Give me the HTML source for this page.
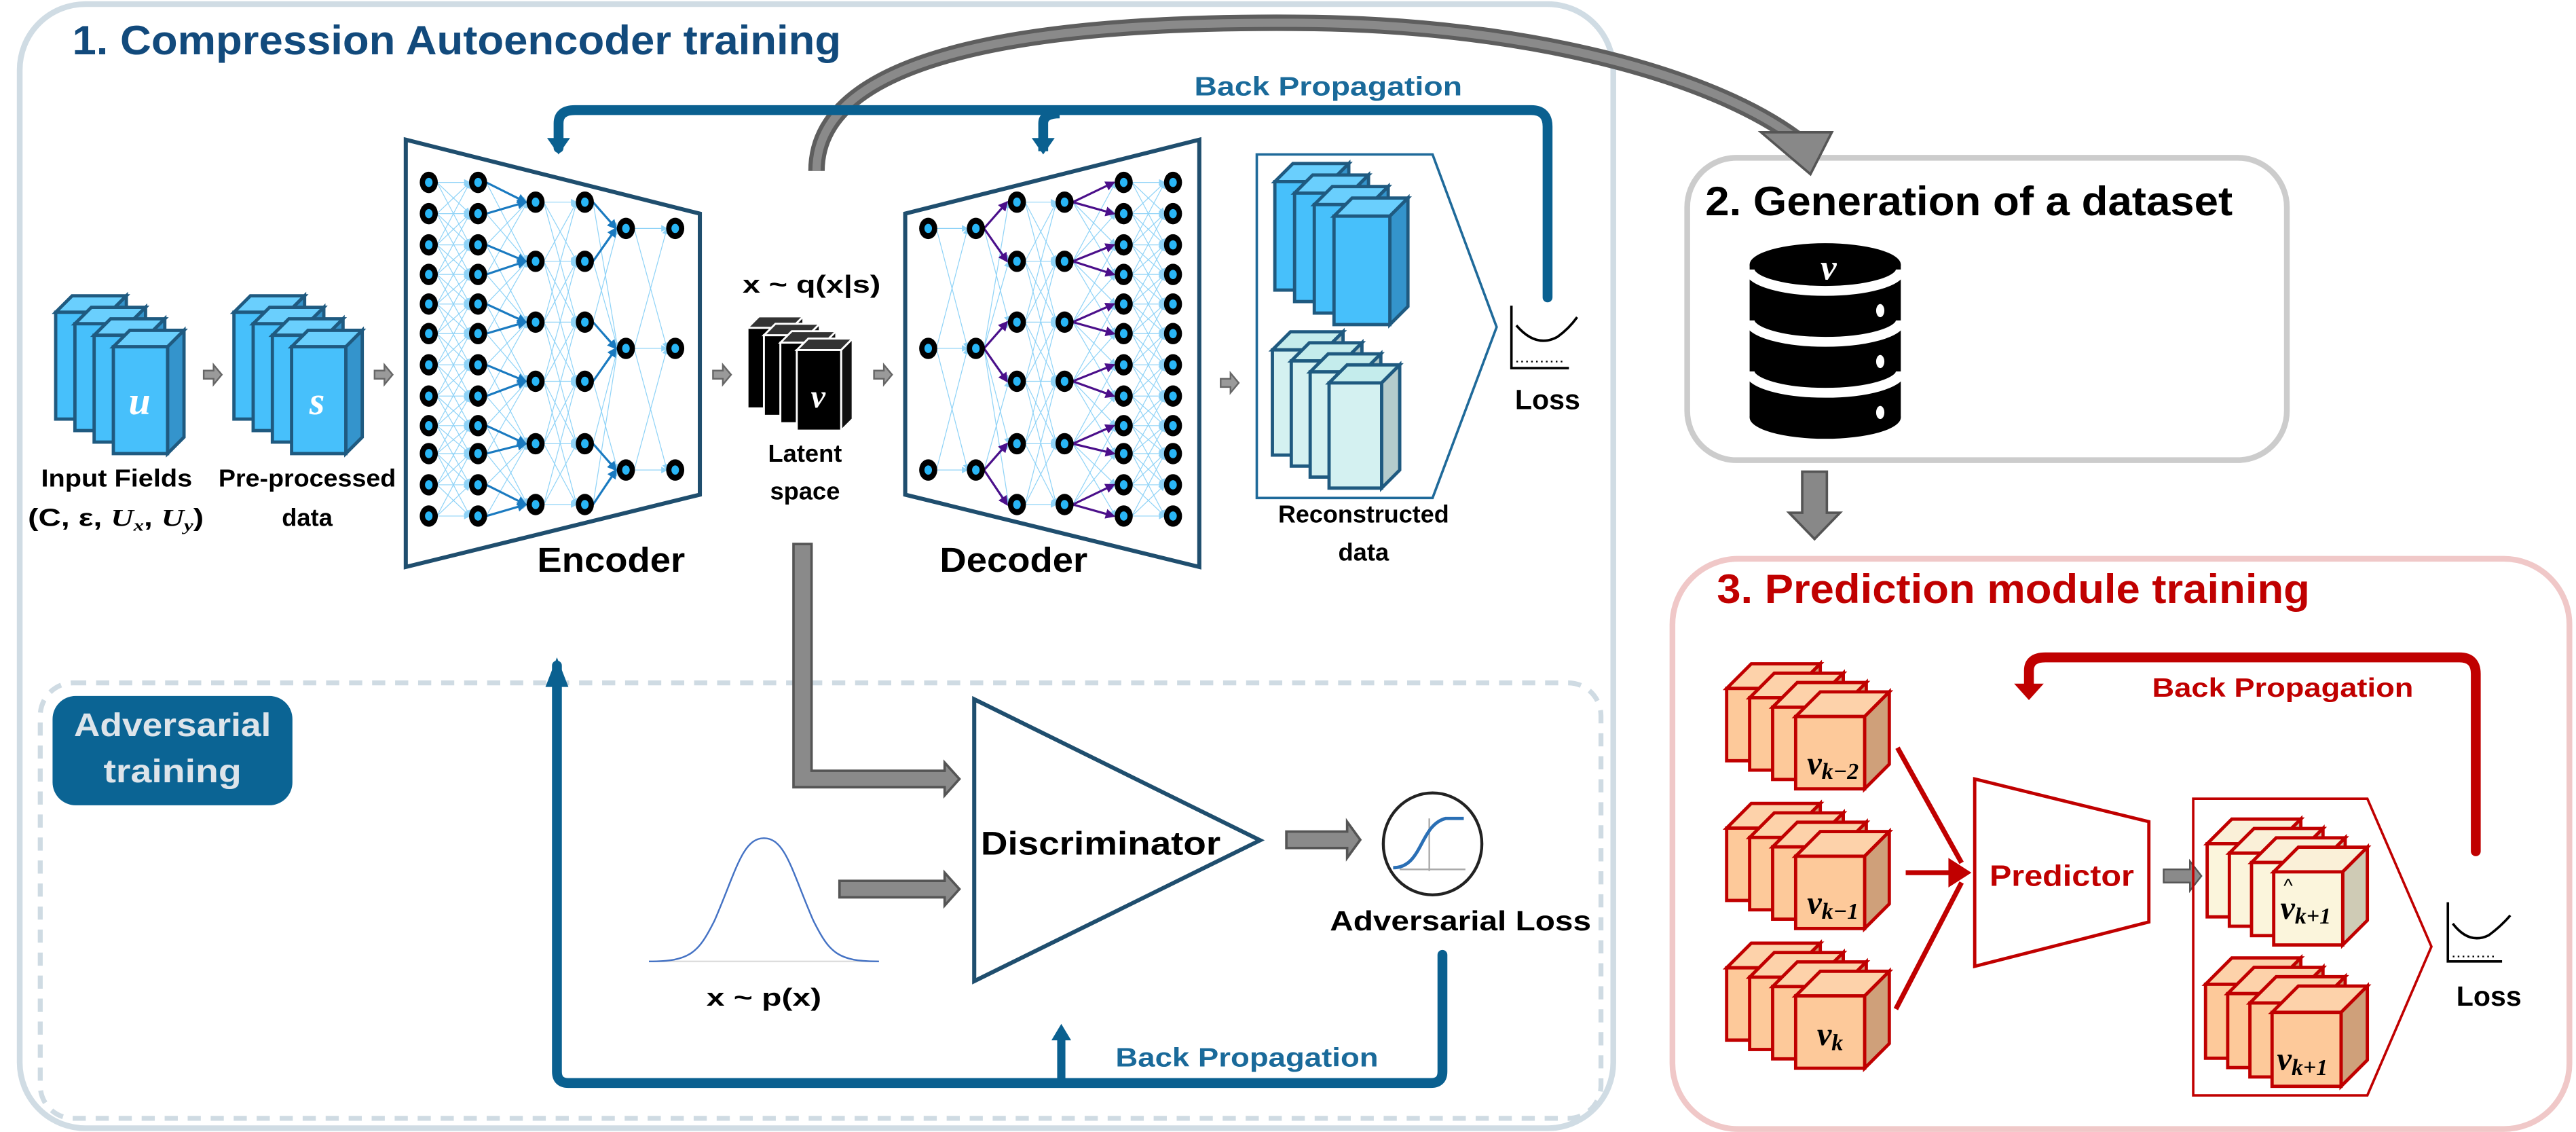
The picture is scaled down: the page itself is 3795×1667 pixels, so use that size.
<!DOCTYPE html>
<html><head><meta charset="utf-8">
<style>
html,body{margin:0;padding:0;background:#fff;}
svg{display:block;}
text{font-family:"Liberation Sans",Arial,sans-serif;font-weight:bold;}
.m{font-family:"Liberation Serif",serif;font-style:italic;font-weight:bold;}
</style></head>
<body>
<svg id="s" xmlns="http://www.w3.org/2000/svg" width="3795" height="1667" viewBox="0 0 1568 688.8" preserveAspectRatio="none">
<defs>
<marker id="ab" markerWidth="6" markerHeight="6" refX="5" refY="3" orient="auto" markerUnits="userSpaceOnUse"><path d="M0,0 L6,3 L0,6 z" fill="#1a7ac0"/></marker>
<marker id="ap" markerWidth="6" markerHeight="6" refX="5" refY="3" orient="auto" markerUnits="userSpaceOnUse"><path d="M0,0 L6,3 L0,6 z" fill="#4b0f8a"/></marker>
<marker id="al" markerWidth="4" markerHeight="4" refX="3.5" refY="2" orient="auto" markerUnits="userSpaceOnUse"><path d="M0,0 L4,2 L0,4 z" fill="#8fd3f7"/></marker>
</defs>

<!-- Panel 1 -->
<rect x="12" y="2.5" width="970" height="684" rx="40" fill="none" stroke="#d0dce4" stroke-width="3.5"/>
<text x="44" y="33" font-size="25" fill="#124a7c" textLength="468" lengthAdjust="spacingAndGlyphs">1. Compression Autoencoder training</text>

<!-- dashed adversarial -->
<rect x="24.5" y="415.5" width="950" height="265" rx="20" fill="none" stroke="#cfdbe3" stroke-width="3" stroke-dasharray="8,6"/>
<rect x="32" y="423.5" width="146" height="66.5" rx="14" fill="#0b6494"/>
<text x="105" y="448" font-size="20" fill="#dde4ea" text-anchor="middle" textLength="120" lengthAdjust="spacingAndGlyphs">Adversarial</text>
<text x="105" y="476" font-size="20" fill="#dde4ea" text-anchor="middle" textLength="84" lengthAdjust="spacingAndGlyphs">training</text>

<!-- Panel 2 -->
<rect x="1027" y="96" width="365" height="184" rx="30" fill="none" stroke="#cccccc" stroke-width="3.5"/>
<text x="1038" y="131" font-size="25" fill="#000" textLength="321" lengthAdjust="spacingAndGlyphs">2. Generation of a dataset</text>
<!-- database -->
<g>
<rect x="1065" y="161" width="92" height="93" fill="#000"/>
<ellipse cx="1111" cy="254" rx="46" ry="13" fill="#000"/>
<ellipse cx="1111" cy="161" rx="46" ry="13" fill="#000"/>
<path d="M1065,164 A46,13 0 0 0 1157,164" fill="none" stroke="#fff" stroke-width="6"/>
<path d="M1065,195 A46,13 0 0 0 1157,195" fill="none" stroke="#fff" stroke-width="6"/>
<path d="M1065,226 A46,13 0 0 0 1157,226" fill="none" stroke="#fff" stroke-width="6"/>
<ellipse cx="1144.5" cy="189" rx="2.5" ry="4" fill="#fff"/>
<ellipse cx="1144.5" cy="220" rx="2.5" ry="4" fill="#fff"/>
<ellipse cx="1144.5" cy="251" rx="2.5" ry="4" fill="#fff"/>
<text x="1113" y="170" class="m" font-size="22" fill="#fff" text-anchor="middle">v</text>
</g>
<!-- gray down arrow -->
<polygon points="1097,287 1112,287 1112,312 1120,312 1104.5,328 1089,312 1097,312" fill="#888" stroke="#555" stroke-width="1.5"/>

<!-- Panel 3 -->
<rect x="1018" y="340" width="546" height="347" rx="40" fill="none" stroke="#f0c8c8" stroke-width="3.5"/>
<text x="1045" y="367" font-size="25" fill="#c00000" textLength="361" lengthAdjust="spacingAndGlyphs">3. Prediction module training</text>

<!-- Curved gray arrow -->
<path d="M497,104 C497,30 640,12 800,14 C930,16 1040,45 1093,84" fill="none" stroke="#5e5e5e" stroke-width="10"/>
<path d="M497,104 C497,30 640,12 800,14 C930,16 1040,45 1093,84" fill="none" stroke="#8a8a8a" stroke-width="5"/>
<polygon points="1072,80.5 1115,80.5 1102,106" fill="#888" stroke="#555" stroke-width="1.5"/>

<!-- Back propagation top (blue) -->
<path d="M340,90 L340,75 Q340,67 350,67 L932,67 Q942,67 942,77 L942,181" fill="none" stroke="#0a6090" stroke-width="6" stroke-linecap="round"/>
<path d="M635,92 L635,75 Q635,69 645,69" fill="none" stroke="#0a6090" stroke-width="6"/>
<polygon points="333,84 347,84 340,94" fill="#0a6090"/>
<polygon points="628,84 642,84 635,94" fill="#0a6090"/>
<text x="727" y="58" font-size="16" fill="#1a6a9a" textLength="163" lengthAdjust="spacingAndGlyphs">Back Propagation</text>

<!-- Encoder / Decoder trapezoids -->
<polygon points="247,85 426,130 426,301 247,345" fill="#fff" stroke="#1f4e6e" stroke-width="2.5"/>
<polygon points="551,130 730,85 730,345 551,301" fill="#fff" stroke="#1f4e6e" stroke-width="2.5"/>
<g id="net"></g>
<text x="372" y="348" font-size="21" fill="#000" text-anchor="middle" textLength="90" lengthAdjust="spacingAndGlyphs">Encoder</text>
<text x="617" y="348" font-size="21" fill="#000" text-anchor="middle" textLength="90" lengthAdjust="spacingAndGlyphs">Decoder</text>

<g id="cubes"></g>

<!-- letters on cubes -->
<text x="85" y="252" class="m" font-size="24" fill="#fff" text-anchor="middle">u</text>
<text x="193" y="252" class="m" font-size="24" fill="#fff" text-anchor="middle">s</text>
<text x="498" y="248" class="m" font-size="20" fill="#fff" text-anchor="middle">v</text>
<text x="829" y="171" class="m" font-size="24" fill="#fff" text-anchor="middle">s</text>
<text x="825" y="281" class="m" font-size="24" fill="#888" text-anchor="middle">s</text>
<text x="825" y="265" font-size="14" fill="#888" text-anchor="middle" style="font-weight:normal">^</text>

<!-- Left labels -->
<text x="71" y="296" font-size="15" fill="#000" text-anchor="middle" textLength="92" lengthAdjust="spacingAndGlyphs">Input Fields</text>
<text x="17" y="320" font-size="15" fill="#000" textLength="107" lengthAdjust="spacingAndGlyphs">(C, ε, <tspan class="m">U</tspan><tspan class="m" font-size="10" dy="3">x</tspan><tspan dy="-3">, </tspan><tspan class="m">U</tspan><tspan class="m" font-size="10" dy="3">y</tspan><tspan dy="-3">)</tspan></text>
<text x="187" y="296" font-size="15" fill="#000" text-anchor="middle" textLength="108" lengthAdjust="spacingAndGlyphs">Pre-processed</text>
<text x="187" y="320" font-size="15" fill="#000" text-anchor="middle">data</text>
<text x="494" y="178" font-size="15" fill="#000" text-anchor="middle" textLength="84" lengthAdjust="spacingAndGlyphs">x ~ q(x|s)</text>
<text x="490" y="281" font-size="15" fill="#000" text-anchor="middle">Latent</text>
<text x="490" y="304" font-size="15" fill="#000" text-anchor="middle">space</text>

<!-- Reconstructed pentagon -->
<polygon points="765,94 872,94 911,199 872,303 765,303" fill="none" stroke="#1f6a9a" stroke-width="1.5"/>
<g id="cubes2"></g>
<text x="830" y="318" font-size="15" fill="#000" text-anchor="middle" textLength="104" lengthAdjust="spacingAndGlyphs">Reconstructed</text>
<text x="830" y="341" font-size="15" fill="#000" text-anchor="middle">data</text>

<!-- Loss icon 1 -->
<g stroke="#000" fill="none" stroke-width="1.5">
<path d="M920,186 L920,224 L955,224"/>
<path d="M923,198 Q935,212 948,205 Q955,200 960,193"/>
<path d="M923,220 L953,220" stroke-dasharray="1,2" stroke-width="1"/>
</g>
<text x="942" y="249" font-size="17" fill="#000" text-anchor="middle">Loss</text>

<!-- small gray arrows -->
<g fill="#9a9a9a" stroke="#666" stroke-width="1">
<polygon points="124,225.5 130,225.5 130,222 135,228 130,234 130,230.5 124,230.5"/>
<polygon points="228,225.5 234,225.5 234,222 239,228 234,234 234,230.5 228,230.5"/>
<polygon points="434,225.5 440,225.5 440,222 445,228 440,234 440,230.5 434,230.5"/>
<polygon points="532,225.5 538,225.5 538,222 543,228 538,234 538,230.5 532,230.5"/>
<polygon points="743,230.5 749,230.5 749,227 754,233 749,239 749,235.5 743,235.5"/>
</g>

<!-- latent to discriminator gray -->
<path d="M483,331 L494,331 L494,469 L575,469 L575,464 L584,474 L575,484 L575,479 L483,479 Z" fill="#8a8a8a" stroke="#555" stroke-width="1.5"/>
<path d="M511,536 L575,536 L575,531 L584,541 L575,551 L575,546 L511,546 Z" fill="#8a8a8a" stroke="#555" stroke-width="1.5"/>
<path d="M783,506 L820,506 L820,500 L828,511 L820,522 L820,516 L783,516 Z" fill="#8a8a8a" stroke="#555" stroke-width="1.5"/>

<!-- Discriminator -->
<polygon points="593,425.5 767,511.3 593,597" fill="#fff" stroke="#1f4e6e" stroke-width="2.5"/>
<text x="597" y="520" font-size="20" fill="#000" textLength="146" lengthAdjust="spacingAndGlyphs">Discriminator</text>

<!-- sigmoid -->
<ellipse cx="872" cy="513.5" rx="30" ry="31" fill="#fff" stroke="#222" stroke-width="1.8"/>
<path d="M852,529 L892,529 M870,498 L870,530" stroke="#aaa" stroke-width="1" fill="none"/>
<path d="M848,528 C866,528 864,502 880,498 L891,498" stroke="#2a6fb5" stroke-width="2" fill="none"/>
<text x="889" y="566" font-size="17" fill="#000" text-anchor="middle" textLength="159" lengthAdjust="spacingAndGlyphs">Adversarial Loss</text>

<!-- gaussian -->
<path d="M395,585 L535,585" stroke="#ddd" stroke-width="1"/>
<path d="M395,585 C420,585 425,580 435,560 C448,530 452,510 465,510 C478,510 482,530 495,560 C505,580 510,585 535,585" stroke="#4472c4" stroke-width="1" fill="none"/>
<text x="465" y="612" font-size="15" fill="#000" text-anchor="middle" textLength="70" lengthAdjust="spacingAndGlyphs">x ~ p(x)</text>

<!-- bottom blue loop -->
<path d="M339,405 L339,652 Q339,659 346,659 L871,659 Q878,659 878,652 L878,581" fill="none" stroke="#0a6090" stroke-width="6" stroke-linecap="round"/>
<polygon points="332,418 346,418 339,400" fill="#0a6090"/>
<path d="M646,659 L646,630" stroke="#0a6090" stroke-width="5"/>
<polygon points="640,633 652,633 646,623" fill="#0a6090"/>
<text x="679" y="649" font-size="16" fill="#1a6a9a" textLength="160" lengthAdjust="spacingAndGlyphs">Back Propagation</text>

<!-- Red back propagation -->
<path d="M1235,418 L1235,408 Q1235,400 1245,400 L1497,400 Q1507,400 1507,410 L1507,518" fill="none" stroke="#c00000" stroke-width="6" stroke-linecap="round"/>
<polygon points="1226,416 1244,416 1235,426" fill="#c00000"/>
<text x="1310" y="424" font-size="16" fill="#c00000" textLength="159" lengthAdjust="spacingAndGlyphs">Back Propagation</text>

<g id="cubes3"></g>

<!-- red arrows -->
<g stroke="#c00000" stroke-width="3" fill="none">
<path d="M1155,455 L1194,525"/>
<path d="M1160,531 L1192,531"/>
<path d="M1154,614 L1194,537"/>
</g>
<polygon points="1186,522 1200,531 1186,540" fill="#c00000"/>
<!-- Predictor -->
<polygon points="1202,474 1308,500 1308,561 1202,588" fill="#fff" stroke="#c00000" stroke-width="2"/>
<text x="1255" y="539" font-size="18" fill="#c00000" text-anchor="middle" textLength="88" lengthAdjust="spacingAndGlyphs">Predictor</text>
<path d="M1317,529 L1333,529 L1333,524 L1340,533 L1333,542 L1333,537 L1317,537 Z" fill="#8a8a8a" stroke="#555" stroke-width="1"/>
<polygon points="1335,486 1441,486 1480,576 1441,666.5 1335,666.5" fill="none" stroke="#c00000" stroke-width="1.5"/>
<g id="cubes4"></g>
<text x="1388" y="559" class="m" font-size="20" fill="#000">v<tspan font-size="14" dy="3">k+1</tspan></text>
<text x="1390" y="543" font-size="12" fill="#000" style="font-weight:normal">^</text>
<text x="1386" y="651" class="m" font-size="20" fill="#000">v<tspan font-size="14" dy="3">k+1</tspan></text>
<text x="1100" y="471" class="m" font-size="20" fill="#000">v<tspan font-size="14" dy="3">k−2</tspan></text>
<text x="1100" y="556" class="m" font-size="20" fill="#000">v<tspan font-size="14" dy="3">k−1</tspan></text>
<text x="1106" y="636" class="m" font-size="20" fill="#000">v<tspan font-size="14" dy="3">k</tspan></text>

<!-- Loss icon 2 -->
<g stroke="#000" fill="none" stroke-width="1.5">
<path d="M1490,549 L1490,585 L1523,585"/>
<path d="M1493,562 Q1503,575 1515,569 Q1523,563 1528,557"/>
<path d="M1493,582 L1520,582" stroke-dasharray="1,2" stroke-width="1"/>
</g>
<text x="1515" y="612" font-size="17" fill="#000" text-anchor="middle">Loss</text>

<script>
var NS="http://www.w3.org/2000/svg";
function el(p,t,a){var e=document.createElementNS(NS,t);for(var k in a)e.setAttribute(k,a[k]);p.appendChild(e);return e;}
function cube(g,x,y,w,h,d,c){
 el(g,'polygon',{points:x+','+y+' '+(x+d)+','+(y-d)+' '+(x+w+d)+','+(y-d)+' '+(x+w)+','+y,fill:c.t,stroke:c.s,'stroke-width':c.sw});
 el(g,'polygon',{points:(x+w)+','+y+' '+(x+w+d)+','+(y-d)+' '+(x+w+d)+','+(y+h-d)+' '+(x+w)+','+(y+h),fill:c.sd,stroke:c.s,'stroke-width':c.sw});
 el(g,'rect',{x:x,y:y,width:w,height:h,fill:c.f,stroke:c.s,'stroke-width':c.sw});
}
function stack(g,x,y,w,h,d,dx,dy,c){for(var i=3;i>=0;i--)cube(g,x-dx*i,y-dy*i,w,h,d,c);}
var blue={f:'#47c0fb',sd:'#3494cc',t:'#6acffd',s:'#1f5a80',sw:2};
var blk={f:'#000',sd:'#111',t:'#333',s:'#fff',sw:1.2};
var lite={f:'#d4f1f1',sd:'#b4cccc',t:'#c4ecec',s:'#1f5a80',sw:2};
var peach={f:'#fdc99a',sd:'#cfa07a',t:'#fdd2aa',s:'#c00000',sw:2};
var cream={f:'#fbf5dc',sd:'#cfcbb5',t:'#faf0d8',s:'#c00000',sw:2};
var g1=document.getElementById('cubes');
stack(g1,69,211,33,65,10,11.7,7,blue);
stack(g1,177.5,211,33,65,10,11.7,7,blue);
stack(g1,485,213,27,49,7,10,4.5,blk);
var g2=document.getElementById('cubes2');
stack(g2,812,131.5,34,66,11,12,7,blue);
stack(g2,809,233,32,64,11,11.5,6.7,lite);
var g3=document.getElementById('cubes3');
[0,85,170].forEach(function(o){stack(g3,1093,436+o,42,44,15,14,5.7,peach);});
var g4=document.getElementById('cubes4');
stack(g4,1384,530.5,42,44.5,15,13.5,5.7,cream);
stack(g4,1383,616,42,45,16,13.5,5.7,peach);

var R12=[111,130,149,167,185,203,222,241,259,276,295,314],R6=[123,159,196,232,270,307],R3=[139,212,286];
var net=document.getElementById('net');
function thin(a,ra,b,rb,span){
 ra.forEach(function(y1,i){rb.forEach(function(y2,j){
  var fi=i/(ra.length-1),fj=j/(rb.length-1);
  if(Math.abs(fi-fj)<=span) el(net,'line',{x1:a+5,y1:y1,x2:b-5,y2:y2,stroke:'#8fd3f7','stroke-width':0.5,'marker-end':'url(#al)'});
 });});
}
function strong(a,ra,b,rb,col,mk){
 rb.forEach(function(y2,j){[2*j,2*j+1].forEach(function(i){
  el(net,'line',{x1:a+5,y1:ra[i],x2:b-6,y2:y2,stroke:col,'stroke-width':1.3,'marker-end':'url(#'+mk+')'});});});
}
function strongD(a,ra,b,rb,col,mk){
 ra.forEach(function(y1,j){[2*j,2*j+1].forEach(function(i){
  el(net,'line',{x1:a+5,y1:y1,x2:b-6,y2:rb[i],stroke:col,'stroke-width':1.3,'marker-end':'url(#'+mk+')'});});});
}
// encoder
thin(261,R12,291,R12,0.2);thin(291,R12,326,R6,0.3);thin(326,R6,356,R6,0.4);thin(356,R6,381,R3,0.5);thin(381,R3,411,R3,0.5);
strong(291,R12,326,R6,'#1a7ac0','ab');strong(356,R6,381,R3,'#1a7ac0','ab');
// decoder
thin(565,R3,594,R3,0.5);thin(594,R3,619,R6,0.5);thin(619,R6,648,R6,0.4);thin(648,R6,684,R12,0.3);thin(684,R12,714,R12,0.2);
strongD(594,R3,619,R6,'#4b0f8a','ap');strongD(648,R6,684,R12,'#4b0f8a','ap');
function nodes(x,rs){rs.forEach(function(y){el(net,'ellipse',{cx:x,cy:y,rx:5.5,ry:6.5,fill:'#000'});el(net,'ellipse',{cx:x,cy:y,rx:2.3,ry:2.8,fill:'#29b6f6'});});}
nodes(261,R12);nodes(291,R12);nodes(326,R6);nodes(356,R6);nodes(381,R3);nodes(411,R3);
nodes(565,R3);nodes(594,R3);nodes(619,R6);nodes(648,R6);nodes(684,R12);nodes(714,R12);
</script>
</svg>
</body></html>
